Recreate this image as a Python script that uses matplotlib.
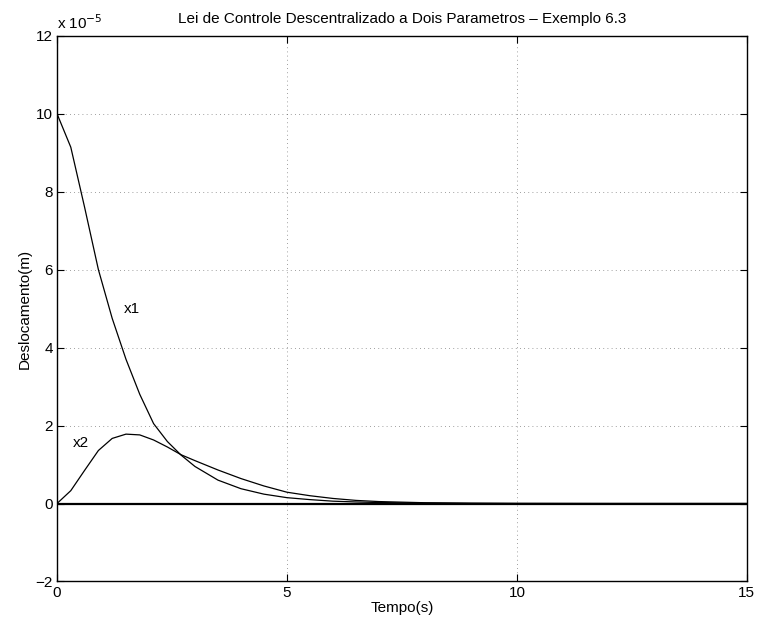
import matplotlib.pyplot as plt
from matplotlib.ticker import FuncFormatter

plt.rcParams['font.family'] = ['Liberation Sans', 'DejaVu Sans']

# tempo (s) e deslocamentos em unidades de 1e-5 m
t = [0, 0.3, 0.6, 0.9, 1.2, 1.5, 1.8, 2.1, 2.4, 2.7, 3.0, 3.5, 4.0, 4.5, 5.0,
     5.5, 6.0, 6.5, 7.0, 8.0, 9.0, 10.0, 12.0, 15.0]
x1 = [10, 9.14, 7.6, 6.0, 4.75, 3.7, 2.8, 2.05, 1.59, 1.24, 0.95, 0.6, 0.38,
      0.24, 0.15, 0.1, 0.06, 0.04, 0.025, 0.01, 0.004, 0.001, 0.0, 0.0]
x2 = [0, 0.33, 0.85, 1.36, 1.67, 1.78, 1.76, 1.63, 1.45, 1.25, 1.1, 0.86,
      0.64, 0.45, 0.29, 0.2, 0.13, 0.08, 0.05, 0.02, 0.008, 0.003, 0.0005, 0.0]
escala = 1e-5

fig = plt.figure(figsize=(7.59, 6.27), dpi=100)
ax = fig.add_axes([0.0751, 0.0726, 0.9089, 0.8704])

ax.plot(t, [v * escala for v in x1], color='k', lw=0.9)
ax.plot(t, [v * escala for v in x2], color='k', lw=0.9)
ax.axhline(0, color='k', lw=1.6)

ax.text(1.45, 5.0 * escala, 'x1', fontsize=11, va='center')
ax.text(0.35, 1.55 * escala, 'x2', fontsize=11, va='center')

ax.set_xlim(0, 15)
ax.set_ylim(-2 * escala, 12 * escala)
ax.set_xticks([0, 5, 10, 15])
ax.set_yticks([v * escala for v in range(-2, 13, 2)])
ax.yaxis.set_major_formatter(FuncFormatter(
    lambda v, p: f'{v / escala:.0f}'.replace('-', '\u2212')))
ax.tick_params(direction='in', length=5, width=0.8, top=True, right=True,
               labelsize=11, pad=3)
ax.grid(True, color='k', linestyle=(0, (1, 4)), lw=0.6, alpha=0.5)
for s in ax.spines.values():
    s.set_linewidth(1.0)

ax.text(0.0, 1.006, r'x 10$^{-5}$', transform=ax.transAxes, fontsize=11,
        ha='left', va='bottom')
ax.set_title('Lei de Controle Descentralizado a Dois Parametros \u2013 Exemplo 6.3',
             fontsize=11, pad=9)
ax.set_xlabel('Tempo(s)', fontsize=11, labelpad=1)
ax.set_ylabel('Deslocamento(m)', fontsize=11, labelpad=3)

fig.savefig('out.png', dpi=100)
